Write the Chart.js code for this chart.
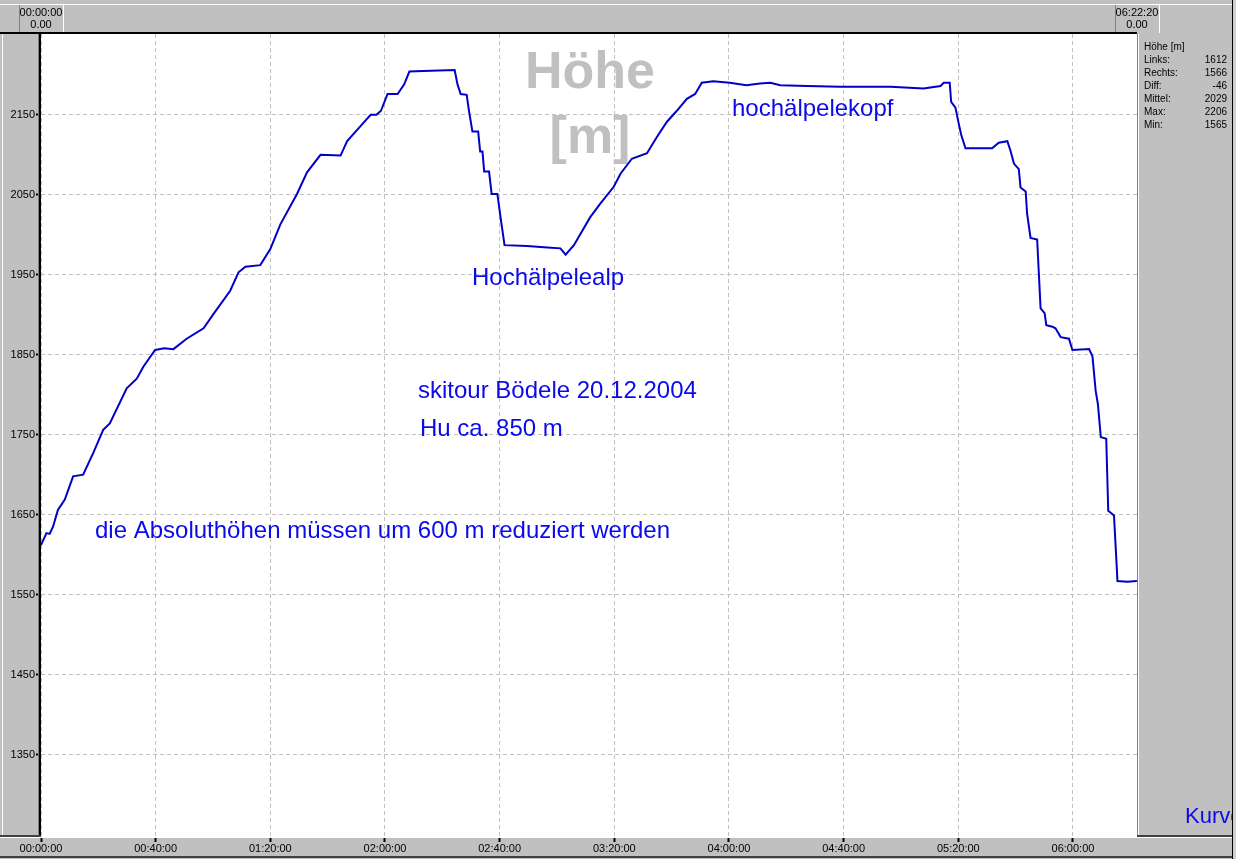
<!DOCTYPE html>
<html>
<head>
<meta charset="utf-8">
<title>Höhe [m]</title>
<script src="https://cdn.jsdelivr.net/npm/chart.js@4.4.0/dist/chart.umd.min.js"></script>
<style>
body { margin: 0; background: #c0c0c0; }
canvas { display: block; }
</style>
</head>
<body>
<canvas id="profileChart" width="1236" height="859"></canvas>
<script>
// elapsed time in minutes, height in m
var times = [0, 1.9, 3.0, 4.2, 5.9, 8.3, 11.2, 14.7, 18.2, 21.7, 24.0, 29.9, 33.4, 35.7, 39.8, 43.0, 46.2, 50.8, 56.7, 60.2,
	66.0, 68.9, 71.3, 76.5, 80.0, 83.5, 89.3, 92.8, 97.5, 104.5, 106.8, 112.0, 115.0, 117.0, 118.6, 120.9, 124.4, 126.7, 128.5, 136.0,
	144.3, 145.3, 146.4, 148.5, 149.3, 150.5, 152.5, 153.2, 154.0, 154.6, 156.3, 157.2, 159.2, 160.3, 161.7, 169.6, 176.6, 181.2, 183.0, 185.9,
	191.6, 195.1, 199.8, 202.1, 206.1, 211.4, 214.8, 218.3, 221.8, 225.3, 228.2, 230.5, 234.5, 240.3, 246.1, 250.8, 254.4, 257.9, 267.2, 278.8,
	296.3, 307.9, 313.8, 314.9, 317.0, 317.5, 319.0, 320.2, 321.0, 322.5, 331.8, 334.1, 337.1, 338.2, 339.4, 341.1, 341.7, 343.5, 344.0, 345.2,
	347.5, 348.1, 348.7, 350.1, 350.7, 352.8, 353.9, 355.7, 358.6, 359.8, 365.6, 366.8, 367.9, 368.7, 369.7, 371.6, 372.3, 374.3, 375.3, 375.5,
	379.0, 382.3];
var heights = [1612, 1627, 1626, 1635, 1656, 1669, 1698, 1700, 1727, 1756, 1764, 1808, 1820, 1835, 1856, 1858, 1857, 1870, 1883, 1901,
	1930, 1953, 1960, 1962, 1982, 2013, 2051, 2078, 2100, 2099, 2117, 2138, 2150, 2150, 2155, 2176, 2176, 2188, 2204, 2205,
	2206, 2188, 2176, 2175, 2155, 2129, 2129, 2104, 2104, 2079, 2079, 2051, 2051, 2022, 1987, 1986, 1984, 1983, 1975, 1987,
	2022, 2039, 2060, 2076, 2095, 2102, 2122, 2141, 2155, 2170, 2176, 2190, 2192, 2190, 2187, 2189, 2190, 2187, 2186, 2185,
	2185, 2183, 2186, 2190, 2190, 2166, 2159, 2138, 2125, 2108, 2108, 2115, 2117, 2105, 2089, 2082, 2059, 2054, 2026, 1996,
	1994, 1951, 1908, 1902, 1887, 1885, 1883, 1872, 1870, 1856, 1857, 1848, 1805, 1788, 1747, 1745, 1655, 1649, 1582, 1567,
	1566, 1567];

var xTicks = [0, 40, 80, 120, 160, 200, 240, 280, 320, 360];
var yTicks = [1350, 1450, 1550, 1650, 1750, 1850, 1950, 2050, 2150];

var statLabels = ["Links:", "Rechts:", "Diff:", "Mittel:", "Max:", "Min:"];
var statValues = ["1612", "1566", "-46", "2029", "2206", "1565"];

var notes = ["hochälpelekopf", "Hochälpelealp", "skitour Bödele 20.12.2004", "Hu ca. 850 m", "die Absoluthöhen müssen um 600 m reduziert werden"];

var tEnd = 382.33;
var smallFont = "11px 'Liberation Sans', Arial, sans-serif";
var blue = "rgb(10,10,235)";

function hms(min) {
	var s = Math.round(min * 60);
	var h = Math.floor(s / 3600);
	var m = Math.floor((s % 3600) / 60);
	s = s % 60;
	return [h, m, s].map(function(n) { return (n < 10 ? "0" : "") + n; }).join(":");
}

var points = [];
for (var i = 0; i < times.length; ++i) {
	points.push({x: times[i], y: heights[i]});
}

function cursorBox(ctx, cx, label) {
	ctx.fillStyle = "#c0c0c0";
	ctx.fillRect(cx - 22, 5, 44, 28);
	ctx.fillStyle = "#808080";
	ctx.fillRect(cx - 22, 5, 1, 28);
	ctx.fillStyle = "#ffffff";
	ctx.fillRect(cx + 22, 5, 1, 28);
	ctx.fillStyle = "#000";
	ctx.font = smallFont;
	ctx.textAlign = "center";
	ctx.textBaseline = "middle";
	ctx.fillText(label, cx, 13);
	ctx.fillText("0.00", cx, 25);
}

var frame = {
	id: "frame",
	beforeDraw: function(chart) {
		var ctx = chart.ctx, a = chart.chartArea, w = chart.width, h = chart.height;
		ctx.save();
		ctx.fillStyle = "#c0c0c0";
		ctx.fillRect(0, 0, w, h);
		ctx.fillStyle = "#d4d0c8";
		ctx.fillRect(1233, 0, w - 1233, h);
		ctx.fillStyle = "#ffffff";
		ctx.fillRect(0, 4, 1233, 1);
		ctx.fillRect(a.left, a.top, a.right - a.left, a.bottom - a.top);
		ctx.restore();
	},
	beforeDatasetsDraw: function(chart) {
		var ctx = chart.ctx;
		ctx.save();
		ctx.fillStyle = "#c0c0c0";
		ctx.font = "bold 52px 'Liberation Sans', Arial, sans-serif";
		ctx.textAlign = "center";
		ctx.textBaseline = "alphabetic";
		ctx.fillText("Höhe", 590, 88);
		ctx.fillText("[m]", 590, 153);
		ctx.restore();
	},
	afterDatasetsDraw: function(chart) {
		var ctx = chart.ctx;
		var pos = [[732, 116], [472, 285], [418, 398], [420, 436], [95, 538]];
		ctx.save();
		ctx.fillStyle = blue;
		ctx.font = "24px 'Liberation Sans', Arial, sans-serif";
		ctx.textAlign = "left";
		ctx.textBaseline = "alphabetic";
		for (var i = 0; i < notes.length; ++i) {
			ctx.fillText(notes[i], pos[i][0], pos[i][1]);
		}
		ctx.restore();
	},
	afterDraw: function(chart) {
		var ctx = chart.ctx, a = chart.chartArea, w = chart.width, h = chart.height;
		var xs = chart.scales.x;
		ctx.save();
		// top bar with cursor boxes
		cursorBox(ctx, xs.getPixelForValue(0), hms(0));
		cursorBox(ctx, xs.getPixelForValue(tEnd), hms(tEnd));
		ctx.fillStyle = "#000";
		ctx.fillRect(0, 32, a.right, 2);
		ctx.fillRect(1232, 0, 1, h);
		// left panel
		ctx.fillStyle = "#808080";
		ctx.fillRect(38, 34, 1, a.bottom - 34);
		ctx.fillStyle = "#000";
		ctx.fillRect(39, 34, 2, a.bottom - 34);
		ctx.fillStyle = "#ffffff";
		ctx.fillRect(2, 34, 1, a.bottom - 36);
		ctx.fillStyle = "#404040";
		ctx.fillRect(0, a.bottom - 2, 41, 2);
		// bottom bar
		ctx.fillStyle = "#ffffff";
		ctx.fillRect(0, a.bottom, 1232, 1);
		ctx.fillStyle = "#404040";
		ctx.fillRect(0, h - 3, 1232, 2);
		// right panel
		ctx.fillStyle = "#808080";
		ctx.fillRect(a.right, 34, 1, a.bottom - 34);
		ctx.fillStyle = "#ffffff";
		ctx.fillRect(a.right + 1, 34, 1, a.bottom - 34);
		ctx.fillStyle = "#404040";
		ctx.fillRect(a.right, a.bottom - 2, 1232 - a.right, 2);
		ctx.fillStyle = "#000";
		ctx.font = "10px 'Liberation Sans', Arial, sans-serif";
		ctx.textBaseline = "middle";
		ctx.textAlign = "left";
		ctx.fillText("Höhe [m]", 1144, 47);
		for (var i = 0; i < statLabels.length; ++i) {
			ctx.textAlign = "left";
			ctx.fillText(statLabels[i], 1144, 60 + i * 13);
			ctx.textAlign = "right";
			ctx.fillText(statValues[i], 1227, 60 + i * 13);
		}
		// legend name, cut by the panel edge
		ctx.beginPath();
		ctx.rect(a.right + 2, 34, 1230 - a.right, a.bottom - 36);
		ctx.clip();
		ctx.fillStyle = blue;
		ctx.font = "22px 'Liberation Sans', Arial, sans-serif";
		ctx.textAlign = "left";
		ctx.textBaseline = "alphabetic";
		ctx.fillText("Kurve", 1185, 823);
		ctx.restore();
	}
};

var config = {
	type: "line",
	data: {
		datasets: [{
			label: "Kurve",
			data: points,
			borderColor: "rgb(0, 0, 200)",
			borderWidth: 2,
			pointRadius: 0,
			tension: 0,
			fill: false
		}]
	},
	options: {
		responsive: false,
		animation: false,
		events: [],
		layout: {padding: {top: 34, right: 99, left: 0, bottom: 0}},
		plugins: {
			legend: {display: false},
			tooltip: {enabled: false}
		},
		scales: {
			x: {
				type: "linear",
				min: 0,
				max: tEnd,
				afterBuildTicks: function(scale) {
					scale.ticks = xTicks.map(function(v) { return {value: v}; });
				},
				afterFit: function(scale) { scale.height = 22; },
				grid: {color: "#c0c0c0", tickColor: "#000", tickWidth: 2, tickLength: 5, tickBorderDash: []},
				border: {display: false, dash: [4, 3]},
				ticks: {
					color: "#000",
					font: {family: "'Liberation Sans', Arial, sans-serif", size: 11},
					padding: 0,
					maxRotation: 0,
					autoSkip: false,
					callback: function(v) { return hms(v); }
				}
			},
			y: {
				min: 1247,
				max: 2251,
				afterBuildTicks: function(scale) {
					scale.ticks = yTicks.map(function(v) { return {value: v}; });
				},
				afterFit: function(scale) { scale.width = 41; },
				grid: {color: "#c0c0c0", tickColor: "#000", tickWidth: 2, tickLength: 5, tickBorderDash: []},
				border: {display: false, dash: [4, 3]},
				ticks: {
					color: "#000",
					font: {family: "'Liberation Sans', Arial, sans-serif", size: 11},
					padding: 1,
					autoSkip: false,
					callback: function(v) { return String(v); }
				}
			}
		}
	},
	plugins: [frame]
};

var profileChart = new Chart(document.getElementById("profileChart"), config);
</script>
</body>
</html>
